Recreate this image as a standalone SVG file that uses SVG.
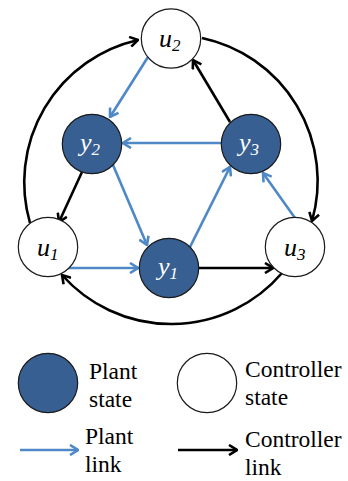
<svg xmlns="http://www.w3.org/2000/svg" width="348" height="481" viewBox="0 0 348 481">
<style>
.plant{fill:#375f91;stroke:#1a1a1a;stroke-width:1.2}
.ctrl{fill:#fff;stroke:#1a1a1a;stroke-width:1.2}
text{font-family:'Liberation Serif','Times New Roman',serif}
.lbl{font-style:italic;font-size:26px}
.sub{font-size:17px}
.wl{fill:#fff}
.bl{fill:#000}
.blue{fill:none;stroke:#4f88c6;stroke-width:2.6}
.black{fill:none;stroke:#000;stroke-width:2.6}
.leg{font-size:23.5px;fill:#000}
</style>
<defs>
<marker id="ab" viewBox="0 0 10 12" refX="9" refY="6" markerWidth="10" markerHeight="12" markerUnits="userSpaceOnUse" orient="auto">
<path d="M1,1 L9,6 L1,11" fill="none" stroke="#4f88c6" stroke-width="2.6"/>
</marker>
<marker id="ak" viewBox="0 0 10 12" refX="9" refY="6" markerWidth="10" markerHeight="12" markerUnits="userSpaceOnUse" orient="auto">
<path d="M1,1 L9,6 L1,11" fill="none" stroke="#000" stroke-width="2.6"/>
</marker>
</defs>
<rect width="348" height="481" fill="#fff"/>
<g id="connectors">
<path class="black" marker-end="url(#ak)" d="M30,223 A146,146 0 0 1 138,40"/>
<path class="black" marker-end="url(#ak)" d="M202,38 A146,146 0 0 1 312,221"/>
<path class="black" marker-end="url(#ak)" d="M282,273 A146,146 0 0 1 62,275"/>
<path class="blue" marker-end="url(#ab)" d="M148,57 L110,117"/>
<path class="black" marker-end="url(#ak)" d="M230,122 L193,60"/>
<path class="blue" marker-end="url(#ab)" d="M222,143 L123,143"/>
<path class="black" marker-end="url(#ak)" d="M82,172 L59,222"/>
<path class="blue" marker-end="url(#ab)" d="M113,165 L147,245"/>
<path class="blue" marker-end="url(#ab)" d="M190,247 L230,167"/>
<path class="blue" marker-end="url(#ab)" d="M295,218 L263,173"/>
<path class="blue" marker-end="url(#ab)" d="M68,268 L138,268"/>
<path class="black" marker-end="url(#ak)" d="M199,268 L273,268"/>
</g>
<g id="u2"><circle class="ctrl" cx="171" cy="38.5" r="29.7"/><text class="lbl bl" x="159" y="47">u<tspan class="sub" dy="4">2</tspan></text></g>
<g id="y2"><circle class="plant" cx="92" cy="144" r="29.7"/><text class="lbl wl" x="80" y="151">y<tspan class="sub" dy="4">2</tspan></text></g>
<g id="y3"><circle class="plant" cx="251" cy="144" r="29.7"/><text class="lbl wl" x="239" y="151">y<tspan class="sub" dy="4">3</tspan></text></g>
<g id="u1"><circle class="ctrl" cx="48" cy="247" r="29.7"/><text class="lbl bl" x="37" y="256">u<tspan class="sub" dy="4">1</tspan></text></g>
<g id="y1"><circle class="plant" cx="169" cy="268" r="29.7"/><text class="lbl wl" x="158" y="275">y<tspan class="sub" dy="4">1</tspan></text></g>
<g id="u3"><circle class="ctrl" cx="295" cy="247" r="29.7"/><text class="lbl bl" x="284" y="256">u<tspan class="sub" dy="4">3</tspan></text></g>
<g id="legend">
<circle class="plant" cx="48" cy="383" r="29.7"/>
<text class="leg" x="89" y="379">Plant</text>
<text class="leg" x="89" y="407">state</text>
<circle class="ctrl" cx="207" cy="383" r="29.7"/>
<text class="leg" x="245" y="377">Controller</text>
<text class="leg" x="245" y="405">state</text>
<path class="blue" marker-end="url(#ab)" d="M20,450 L78,450"/>
<text class="leg" x="85" y="444">Plant</text>
<text class="leg" x="85" y="472">link</text>
<path class="black" marker-end="url(#ak)" d="M178,450 L237,450"/>
<text class="leg" x="245" y="447">Controller</text>
<text class="leg" x="245" y="475">link</text>
</g>
</svg>
